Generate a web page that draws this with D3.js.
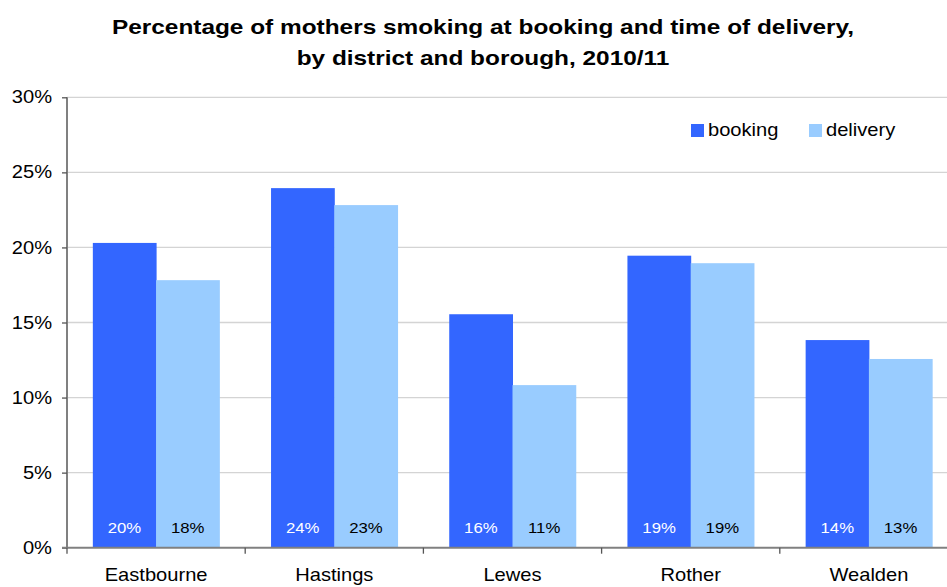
<!DOCTYPE html>
<html>
<head>
<meta charset="utf-8">
<script src="https://cdn.jsdelivr.net/npm/d3@7"></script>
<style>
  html, body { margin: 0; padding: 0; background: #fff; }
  svg { display: block; font-family: "Liberation Sans", Arial, sans-serif; }
</style>
</head>
<body>
<svg id="chart" width="947" height="587"></svg>
<script>
const categories = ["Eastbourne", "Hastings", "Lewes", "Rother", "Wealden"];
const seriesNames = ["booking", "delivery"];
const booking = [20.3, 23.95, 15.55, 19.45, 13.83];
const delivery = [17.82, 22.82, 10.83, 18.95, 12.57];
const yTicks = [0, 5, 10, 15, 20, 25, 30];
const titleLines = ["Percentage of mothers smoking at booking and time of delivery,",
                    "by district and borough, 2010/11"];
const colors = { booking: "#3366FF", delivery: "#99CCFF" };

const svg = d3.select("#chart");
const x0 = 67, x1 = 958, yTop = 97.3, yBot = 547.7;
const FONT = "Liberation Sans, Arial, sans-serif";

const x = d3.scaleBand().domain(categories).range([x0, x1]).paddingInner(0.29).paddingOuter(0.145);
const xs = d3.scaleBand().domain(seriesNames).range([0, x.bandwidth()]);
const y = d3.scaleLinear().domain([0, 30]).range([yBot, yTop]);

// title (stretched horizontally like the reference)
svg.append("g").selectAll("text").data(titleLines).join("text")
  .attr("transform", (d, i) => `translate(483,${33.5 + i * 31.5}) scale(1.22,1)`)
  .attr("text-anchor", "middle")
  .attr("font-weight", "bold").attr("font-size", 20).attr("fill", "#000")
  .text(d => d);

// gridlines
svg.append("g").selectAll("line").data(yTicks.filter(t => t > 0)).join("line")
  .attr("x1", x0).attr("x2", x1)
  .attr("y1", d => y(d)).attr("y2", d => y(d))
  .attr("stroke", "#d4d4d4").attr("stroke-width", 1.3);

// bars
const data = categories.map((c, i) => ({ c, vals: [
  { s: "booking", v: booking[i] }, { s: "delivery", v: delivery[i] }] }));
const g = svg.append("g").selectAll("g").data(data).join("g")
  .attr("transform", d => `translate(${x(d.c)},0)`);
g.selectAll("rect").data(d => d.vals).join("rect")
  .attr("x", d => xs(d.s)).attr("width", xs.bandwidth() + 0.5)
  .attr("y", d => y(d.v)).attr("height", d => y(0) - y(d.v))
  .attr("fill", d => colors[d.s]);
g.selectAll("text").data(d => d.vals).join("text")
  .attr("transform", d => `translate(${xs(d.s) + xs.bandwidth() / 2},533) scale(1.08,1)`)
  .attr("text-anchor", "middle").attr("font-size", 15.5)
  .attr("fill", d => d.s === "booking" ? "#fff" : "#000")
  .text(d => Math.round(d.v) + "%");

// y axis
const kA = 1.15;
const yAxis = svg.append("g").attr("transform", `translate(${x0},0)`)
  .call(d3.axisLeft(y).tickValues(yTicks).tickFormat(d => d + "%").tickSize(5).tickPadding(15));
yAxis.select(".domain").attr("stroke", "#808080").attr("stroke-width", 2).attr("d", `M0,${yTop}V${yBot}`);
yAxis.selectAll(".tick line").attr("stroke", "#555").attr("stroke-width", 1.3);
yAxis.selectAll(".tick text").attr("font-size", 17.5).attr("fill", "#000")
  .attr("font-family", FONT)
  .attr("x", -15 / kA).attr("transform", `scale(${kA},1)`);

// x axis
const xAxis = svg.append("g").attr("transform", `translate(0,${yBot})`)
  .call(d3.axisBottom(x).tickSize(0).tickPadding(0));
xAxis.select(".domain").attr("stroke", "#808080").attr("stroke-width", 2).attr("d", `M${x0 - 5},0H${x1}`);
xAxis.selectAll(".tick text").attr("font-size", 17.5).attr("fill", "#000")
  .attr("font-family", FONT).attr("dy", null).attr("y", 0)
  .attr("transform", `translate(0,33) scale(${kA},1)`);
// category separator ticks
svg.append("g").selectAll("line").data(d3.range(categories.length + 1)).join("line")
  .attr("x1", i => x0 + i * (x1 - x0) / categories.length)
  .attr("x2", i => x0 + i * (x1 - x0) / categories.length)
  .attr("y1", yBot).attr("y2", yBot + 6)
  .attr("stroke", "#555").attr("stroke-width", 1.3);

// legend
const leg = svg.append("g");
const legX = [691, 809];
seriesNames.forEach((s, i) => {
  leg.append("rect").attr("x", legX[i]).attr("y", 124).attr("width", 13).attr("height", 13).attr("fill", colors[s]);
  leg.append("text").attr("transform", `translate(${legX[i] + 17},136) scale(${kA},1)`)
    .attr("font-size", 17.5).attr("fill", "#000").text(s);
});
</script>
</body>
</html>
